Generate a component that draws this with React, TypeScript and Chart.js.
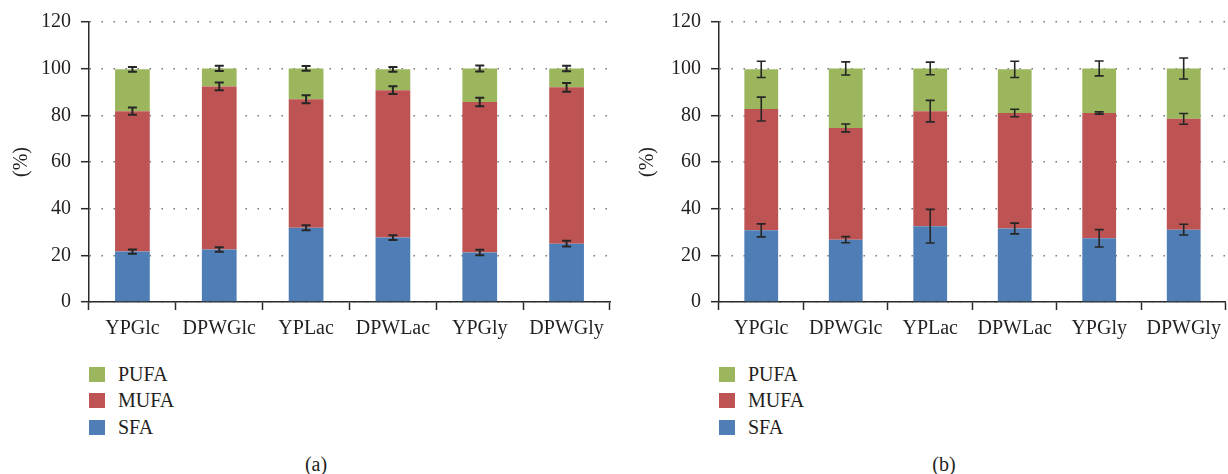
import React, { useEffect, useRef } from "react";
import { Chart, registerables } from "chart.js";

Chart.register(...registerables);

const categories = ["YPGlc", "DPWGlc", "YPLac", "DPWLac", "YPGly", "DPWGly"];
const seriesNames = ["SFA", "MUFA", "PUFA"];
const seriesColors = ["#4F7EB6", "#BD5453", "#9BB65C"];
const yTicks = [0, 20, 40, 60, 80, 100, 120];

// Panel (a)
const sfaA = [21.6, 22.5, 31.8, 27.6, 21.2, 25.0];
const mufaA = [60.2, 69.9, 55.1, 63.2, 64.5, 67.0];
const pufaA = [17.9, 7.7, 13.2, 8.9, 14.4, 8.1];
const sfaErrA = [0.9, 1.0, 1.1, 1.0, 1.2, 1.2];
const mufaErrA = [1.6, 1.7, 1.7, 1.7, 1.8, 1.9];
const pufaErrA = [1.0, 1.1, 1.0, 1.0, 1.3, 1.2];

// Panel (b)
const sfaB = [30.7, 26.7, 32.5, 31.5, 27.3, 31.0];
const mufaB = [52.0, 47.9, 49.3, 49.5, 53.7, 47.5];
const pufaB = [17.0, 25.5, 18.3, 18.7, 19.1, 21.6];
const sfaErrB = [2.8, 1.3, 7.2, 2.3, 3.7, 2.3];
const mufaErrB = [5.1, 1.7, 4.6, 1.6, 0.5, 2.3];
const pufaErrB = [3.5, 2.8, 2.7, 3.5, 3.2, 4.5];

const FONT = "'Liberation Serif', 'Times New Roman', serif";
const TEXT = "#231F20";
const AXIS = "#2A2A2A";

const errorBarPlugin = {
  id: "errorBars",
  afterDatasetsDraw(chart: any, _args: any, opts: any) {
    const ctx = chart.ctx;
    const yScale = chart.scales.y;
    const errs: number[][] = opts.errors || [];
    ctx.save();
    ctx.strokeStyle = opts.color || "#222";
    ctx.lineWidth = opts.lineWidth || 1.8;
    chart.data.datasets.forEach((ds: any, di: number) => {
      const meta = chart.getDatasetMeta(di);
      meta.data.forEach((el: any, i: number) => {
        let cum = 0;
        for (let k = 0; k <= di; k++) cum += chart.data.datasets[k].data[i];
        const e = errs[di] ? errs[di][i] : 0;
        const x = el.x;
        const y1 = yScale.getPixelForValue(cum + e);
        const y2 = yScale.getPixelForValue(cum - e);
        const cap = opts.cap || 4.5;
        ctx.beginPath();
        ctx.moveTo(x, y1);
        ctx.lineTo(x, y2);
        ctx.moveTo(x - cap, y1);
        ctx.lineTo(x + cap, y1);
        ctx.moveTo(x - cap, y2);
        ctx.lineTo(x + cap, y2);
        ctx.stroke();
      });
    });
    ctx.restore();
  },
};

function makeConfig(
  values: number[][],
  errors: number[][],
  yWidth: number,
  titlePad: number,
  rightPad: number,
  errWidth: number
): any {
  return {
    type: "bar",
    data: {
      labels: categories,
      datasets: values.map((v, i) => ({
        label: seriesNames[i],
        data: v,
        backgroundColor: seriesColors[i],
        borderWidth: 0,
        categoryPercentage: 1,
        barPercentage: 0.4,
      })),
    },
    plugins: [errorBarPlugin],
    options: {
      animation: false,
      responsive: false,
      maintainAspectRatio: false,
      events: [],
      layout: { padding: { top: 19, right: rightPad, left: 0, bottom: 0 } },
      plugins: {
        legend: { display: false },
        tooltip: { enabled: false },
        errorBars: { errors, color: "#262626", lineWidth: errWidth, cap: 4.5 },
      },
      scales: {
        x: {
          stacked: true,
          offset: true,
          grid: {
            offset: true,
            drawOnChartArea: false,
            drawTicks: true,
            tickLength: 8,
            tickColor: AXIS,
            tickWidth: 1.5,
          },
          border: { display: true, color: AXIS, width: 1.5 },
          ticks: {
            color: TEXT,
            padding: 7,
            font: { family: FONT, size: 20 },
            maxRotation: 0,
            autoSkip: false,
          },
          afterFit(scale: any) {
            scale.height = 43;
          },
        },
        y: {
          stacked: true,
          min: 0,
          max: 120,
          afterBuildTicks(scale: any) {
            scale.ticks = yTicks.map((v) => ({ value: v }));
          },
          grid: {
            color: "#6A6A6A",
            lineWidth: 1.4,
            tickLength: 8,
            tickColor: AXIS,
            tickWidth: 1.5,
            tickBorderDash: [],
          },
          border: { display: true, color: AXIS, width: 1.5, dash: [1.4, 10.6] },
          ticks: {
            color: TEXT,
            padding: 10,
            font: { family: FONT, size: 20 },
          },
          title: {
            display: true,
            text: "(%)",
            color: TEXT,
            font: { family: FONT, size: 20 },
            padding: { top: titlePad, bottom: 0 },
          },
          afterFit(scale: any) {
            scale.width = yWidth;
          },
        },
      },
    },
  };
}

function Panel(props: {
  left: number;
  values: number[][];
  errors: number[][];
  yWidth: number;
  titlePad: number;
  rightPad: number;
  errWidth: number;
  caption: string;
  captionX: number;
}) {
  const ref = useRef<HTMLCanvasElement | null>(null);
  useEffect(() => {
    if (!ref.current) return;
    const chart = new Chart(
      ref.current,
      makeConfig(props.values, props.errors, props.yWidth, props.titlePad, props.rightPad, props.errWidth)
    );
    return () => chart.destroy();
  }, []);
  const legendOrder = [2, 1, 0];
  const legendY = [367, 393, 420];
  return (
    <div style={{ position: "absolute", left: props.left, top: 0, width: 614, height: 474 }}>
      <canvas ref={ref} width={614} height={345} style={{ position: "absolute", left: 0, top: 0, width: 614, height: 345 }} />
      {legendOrder.map((si, k) => (
        <div key={si}>
          <div
            style={{
              position: "absolute",
              left: props.yWidth,
              top: legendY[k],
              width: 16,
              height: 15,
              background: seriesColors[si],
            }}
          />
          <div
            style={{
              position: "absolute",
              left: props.yWidth + 29,
              top: legendY[k] - 5,
              fontFamily: FONT,
              fontSize: 20,
              lineHeight: "24px",
              color: TEXT,
              whiteSpace: "nowrap",
            }}
          >
            {seriesNames[si]}
          </div>
        </div>
      ))}
      <div
        style={{
          position: "absolute",
          left: props.captionX - 30,
          width: 60,
          textAlign: "center",
          top: 452,
          fontFamily: FONT,
          fontSize: 20,
          lineHeight: "24px",
          color: TEXT,
        }}
      >
        {props.caption}
      </div>
    </div>
  );
}

export default function App() {
  useEffect(() => {
    document.body.style.margin = "0";
    document.body.style.background = "#FFFFFF";
  }, []);
  return (
    <div style={{ position: "relative", width: 1228, height: 474, background: "#FFFFFF", overflow: "hidden" }}>
      <Panel
        left={0}
        values={[sfaA, mufaA, pufaA]}
        errors={[sfaErrA, mufaErrA, pufaErrA]}
        yWidth={89}
        titlePad={10}
        rightPad={4}
        errWidth={2}
        caption="(a)"
        captionX={316}
      />
      <Panel
        left={614}
        values={[sfaB, mufaB, pufaB]}
        errors={[sfaErrB, mufaErrB, pufaErrB]}
        yWidth={105}
        titlePad={22}
        rightPad={1}
        errWidth={1.6}
        caption="(b)"
        captionX={330}
      />
    </div>
  );
}
